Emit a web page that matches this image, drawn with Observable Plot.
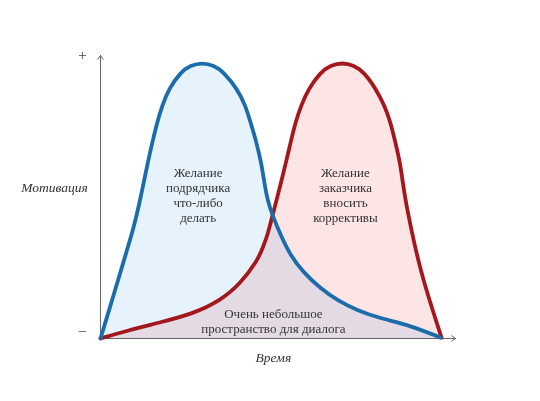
<!DOCTYPE html>
<html><head><meta charset="utf-8">
<script src="https://cdn.jsdelivr.net/npm/d3@7"></script>
<script src="https://cdn.jsdelivr.net/npm/@observablehq/plot@0.6"></script>
<style>body{margin:0;background:#fff}</style>
</head><body><div id="chart"></div>
<script>
// Contractor's desire (blue)
const blueTime = [0, 3.66, 6.76, 9.30, 10.99, 13.32, 14.85, 15.97, 17.38, 19.24, 22.54, 25.35, 28.65, 31.92, 34.73, 38.51, 40.85, 42.25, 43.66, 45.27, 46.06, 47.04, 48.45, 50.70, 53.52, 57.18, 61.97, 66.76, 72.39, 78.87, 87.32, 95.8];
const blueMotivation = [0, 15.2, 28.3, 38.9, 47.7, 62.3, 70.6, 76.4, 82.3, 88.2, 94.1, 96.5, 97.4, 96.5, 94.1, 88.2, 82.3, 76.4, 70.6, 62.3, 55.8, 48.8, 43.5, 36.7, 29.3, 23.3, 17.7, 13.4, 9.9, 7.1, 4.6, 0.3];
// Client's desire (red)
const redTime = [0, 7.61, 16.90, 26.20, 33.80, 39.44, 44.23, 45.63, 47.04, 48.45, 49.58, 50.99, 52.25, 53.80, 54.93, 56.48, 58.59, 61.97, 64.79, 68.08, 71.41, 74.23, 77.61, 80.00, 81.69, 82.82, 84.37, 85.07, 85.92, 87.32, 89.58, 92.39, 96.06];
const redMotivation = [0, 2.8, 5.7, 8.8, 13.4, 19.4, 27.6, 31.8, 36.4, 43.5, 48.8, 55.8, 62.3, 70.6, 76.4, 82.3, 88.2, 94.1, 96.5, 97.5, 96.5, 94.1, 88.2, 82.3, 76.4, 70.6, 62.3, 55.8, 48.8, 39.9, 26.9, 14.5, 0.3];

const yTicks = [100, 3];
const yTickLabels = ["+", "–"];
const yTitle = "Мотивация";
const xTitle = "Время";
const labelTexts = ["Желание\nподрядчика\nчто-либо\nделать", "Желание\nзаказчика\nвносить\nкоррективы"];
const labelTime = [27.5, 69.0];
const labelMotivation = [50.9, 50.9];
const overlapText = "Очень небольшое\nпространство для диалога";
const overlapTime = 48.7;
const overlapMotivation = 6.4;

const blue = blueTime.map((t, i) => ({t, m: blueMotivation[i]}));
const red = redTime.map((t, i) => ({t, m: redMotivation[i]}));
const labels = labelTexts.map((text, i) => ({text, t: labelTime[i], m: labelMotivation[i]}));

const serif = "'Liberation Serif', 'DejaVu Serif', serif";
const blueColor = "#1b6cab";
const redColor = "#a3181c";
const curve = "basis";

const chart = Plot.plot({
  width: 540,
  height: 401,
  margin: 0,
  style: {background: "#fff", fontFamily: serif},
  x: {domain: [0, 100], range: [100, 455], axis: null},
  y: {domain: [0, 100], range: [338, 55], axis: null},
  marks: [
    Plot.areaY(blue, {x: "t", y: "m", curve, fill: "#e6f3fd", mixBlendMode: "multiply"}),
    Plot.areaY(red, {x: "t", y: "m", curve, fill: "#fde5e5", mixBlendMode: "multiply"}),
    Plot.arrow([{x1: 0, y1: 0, x2: 0, y2: 100}, {x1: 0, y1: 0, x2: 100, y2: 0}], {
      x1: "x1", y1: "y1", x2: "x2", y2: "y2", stroke: "#666", strokeWidth: 1, headLength: 7, headAngle: 70
    }),
    Plot.line(red, {x: "t", y: "m", curve, stroke: redColor, strokeWidth: 3.8, strokeLinecap: "round"}),
    Plot.line(blue, {x: "t", y: "m", curve, stroke: blueColor, strokeWidth: 3.8, strokeLinecap: "round"}),
    Plot.text(yTicks, {x: 0, y: d => d, text: (d, i) => yTickLabels[i], dx: -18, fontSize: 15, fill: "#444", fontFamily: serif}),
    Plot.text([yTitle], {x: 0, y: 53.4, text: d => d, dx: -46, fontSize: 13.5, fontStyle: "italic", fill: "#333", fontFamily: serif}),
    Plot.text([xTitle], {x: 48.7, y: 0, text: d => d, dy: 19, fontSize: 13.5, fontStyle: "italic", fill: "#333", fontFamily: serif}),
    Plot.text(labels, {x: "t", y: "m", text: "text", fontSize: 13, lineHeight: 1.16, fill: "#333", fontFamily: serif}),
    Plot.text([overlapText], {x: overlapTime, y: overlapMotivation, text: d => d, fontSize: 13, lineHeight: 1.22, fill: "#333", fontFamily: serif})
  ]
});
document.getElementById("chart").append(chart);
</script>
</body></html>
